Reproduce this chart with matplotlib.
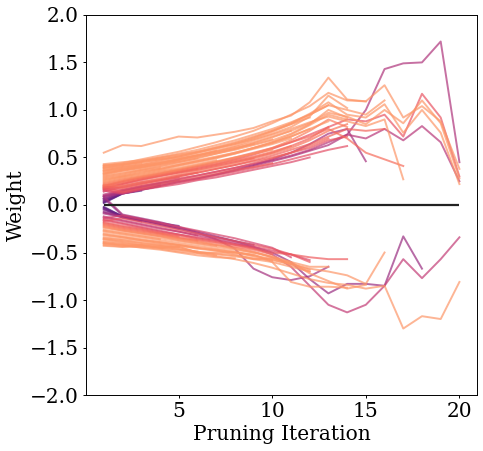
import numpy as np
import matplotlib
matplotlib.use("Agg")
import matplotlib.pyplot as plt

# ---- data: weight trajectories over pruning iterations (each starts at iteration 1) ----
pos_long = [
    [0.10,0.14,0.17,0.21,0.25,0.28,0.32,0.36,0.41,0.46,0.51,0.57,0.63,0.74,1.00,1.43,1.49,1.50,1.72,0.45],
    [0.17,0.22,0.27,0.31,0.35,0.39,0.43,0.48,0.53,0.59,0.66,0.74,0.82,0.90,0.88,0.95,0.72,1.17,0.92,0.30],
    [0.30,0.33,0.37,0.41,0.45,0.49,0.54,0.59,0.65,0.71,0.78,0.86,0.97,0.93,0.85,1.00,0.86,1.10,0.86,0.28],
    [0.11,0.16,0.20,0.23,0.27,0.31,0.35,0.39,0.43,0.47,0.52,0.58,0.66,0.74,0.70,0.80,0.68,0.83,0.66,0.25],
    [0.36,0.40,0.43,0.47,0.51,0.55,0.60,0.65,0.71,0.78,0.86,0.96,1.08,0.95,0.92,1.06,0.76,1.00,0.76,0.22],
    [0.41,0.44,0.48,0.52,0.56,0.61,0.66,0.72,0.78,0.86,0.95,1.04,1.18,1.10,1.09,1.26,0.92,1.04,0.88,0.38],
    [0.33,0.37,0.40,0.44,0.48,0.52,0.57,0.62,0.68,0.74,0.80,0.87,0.93,0.88,0.83,0.90,0.27],
    [0.20,0.25,0.29,0.33,0.37,0.41,0.45,0.50,0.55,0.60,0.66,0.72,0.80,0.70,0.55,0.48,0.41],
    [0.09,0.12,0.16,0.20,0.24,0.28,0.32,0.37,0.42,0.48,0.55,0.64,0.75,0.80,0.46],
    [0.55,0.63,0.62,0.67,0.72,0.71,0.74,0.77,0.81,0.88,0.94,1.08,1.34,1.11,1.09],
    [0.39,0.42,0.46,0.50,0.54,0.58,0.63,0.68,0.74,0.80,0.87,0.95,1.05,1.00,0.95,1.10],
    [0.19,0.18,0.22,0.26,0.30,0.34,0.38,0.42,0.47,0.52,0.58,0.64,0.72,0.80,0.78,0.80],
]
pos_mid = [
    [0.15,0.12,0.16,0.19,0.22,0.26,0.29,0.33,0.37,0.41,0.45,0.50],
    [0.16,0.13,0.17,0.20,0.24,0.27,0.31,0.35,0.39,0.43,0.48,0.53,0.58,0.62],
    [0.18,0.14,0.18,0.22,0.26,0.29,0.33,0.37,0.40,0.44],
    [0.19,0.18,0.22,0.26,0.30,0.34,0.38,0.42,0.46,0.50,0.55,0.62,0.70],
    [0.21,0.20,0.24,0.28,0.32,0.36,0.40,0.44,0.49,0.54,0.60,0.68,0.78,0.85],
    [0.19,0.23,0.27,0.31,0.34,0.38,0.42,0.46,0.50,0.55,0.62,0.70,0.82],
    [0.22,0.26,0.30,0.33,0.37,0.41,0.45,0.49,0.54,0.60,0.68,0.78,0.90,0.82],
    [0.24,0.28,0.31,0.35,0.38,0.42,0.46,0.50,0.54,0.58],
    [0.26,0.30,0.33,0.37,0.41,0.45,0.49,0.54,0.60,0.66,0.74,0.84,0.95,0.90],
    [0.28,0.31,0.35,0.38,0.42,0.46,0.50,0.54,0.59,0.64,0.70],
    [0.31,0.34,0.37,0.40,0.43,0.47,0.51,0.55,0.60,0.66,0.72,0.80],
    [0.34,0.37,0.40,0.43,0.46,0.50,0.54,0.58,0.63,0.68,0.75,0.85,1.00,0.92],
    [0.37,0.39,0.42,0.45,0.48,0.52,0.56,0.60,0.64,0.69],
    [0.40,0.42,0.45,0.48,0.51,0.55,0.59,0.64,0.69,0.75,0.82,0.93,1.15,1.02],
    [0.43,0.45,0.47,0.50,0.53,0.56,0.60,0.64,0.70,0.77,0.85,0.95,1.05],
    [0.42,0.43,0.46,0.49,0.52,0.56,0.61,0.66,0.72,0.78,0.85,0.92],
    [0.32,0.36,0.39,0.43,0.47,0.51,0.55,0.59,0.64],
    [0.21,0.25,0.29,0.32,0.36,0.40,0.43,0.47,0.51,0.56,0.62],
    [0.17,0.16,0.20,0.24,0.28,0.31,0.35,0.39,0.44,0.49,0.55,0.60,0.68,0.72],
    [0.27,0.30,0.34,0.38,0.42,0.46,0.50,0.55,0.60,0.65,0.72,0.80,0.88],
    [0.18,0.22,0.26,0.30,0.34,0.37,0.41,0.45,0.49],
    [0.35,0.38,0.41,0.44,0.48,0.52,0.56,0.61,0.66,0.72,0.78],
]
pos_short = [
    [0.02,0.12,0.16,0.20],
    [0.04,0.13,0.17],
    [0.06,0.14,0.19,0.23,0.26],
    [0.03,0.12,0.15],
    [0.05,0.13],
    [0.07,0.15,0.18,0.22],
    [0.09,0.15,0.19],
    [0.16,0.20,0.24,0.27,0.31,0.34],
    [0.23,0.27,0.30,0.34,0.37],
    [0.25,0.29,0.32,0.36,0.39,0.43,0.47],
    [0.29,0.32,0.36,0.39],
    [0.33,0.36,0.39,0.42,0.45,0.49],
    [0.36,0.38,0.41,0.44,0.47],
    [0.39,0.41,0.44],
    [0.41,0.43,0.45,0.48,0.50,0.53,0.57],
    [0.14,0.19,0.23,0.26,0.29],
    [0.20,0.24,0.28,0.31,0.35,0.38],
    [0.38,0.40,0.42,0.46,0.49,0.52],
]
neg_long = [
    [-0.12,-0.16,-0.20,-0.24,-0.28,-0.32,-0.36,-0.40,-0.45,-0.52,-0.65,-0.85,-1.05,-1.13,-1.05,-0.85,-0.57,-0.77,-0.57,-0.34],
    [-0.40,-0.43,-0.44,-0.46,-0.49,-0.51,-0.54,-0.57,-0.61,-0.66,-0.72,-0.78,-0.82,-0.84,-0.88,-0.85,-1.30,-1.17,-1.20,-0.81],
    [-0.08,-0.12,-0.16,-0.20,-0.24,-0.28,-0.33,-0.38,-0.44,-0.50,-0.60,-0.78,-0.93,-0.83,-0.83,-0.85,-0.33,-0.67],
    [-0.36,-0.39,-0.42,-0.45,-0.44,-0.50,-0.51,-0.53,-0.56,-0.58,-0.62,-0.67,-0.70,-0.74,-0.83,-0.50],
]
neg_mid = [
    [0.09,-0.10,-0.14,-0.18,-0.23,-0.29,-0.36,-0.46,-0.67,-0.76,-0.79,-0.75,-0.65],
    [0.07,-0.11,-0.15,-0.20,-0.25,-0.30,-0.34,-0.38,-0.42],
    [-0.18,-0.22,-0.25,-0.29,-0.32,-0.36,-0.39,-0.42,-0.46,-0.50,-0.52,-0.55,-0.57,-0.57],
    [-0.42,-0.44,-0.44,-0.44,-0.44,-0.50,-0.50,-0.50,-0.52,-0.60,-0.81,-0.86,-0.86,-0.87],
    [-0.30,-0.33,-0.36,-0.39,-0.42,-0.45,-0.48,-0.52,-0.57,-0.56,-0.60,-0.65,-0.65],
    [-0.26,-0.29,-0.32,-0.35,-0.38,-0.41,-0.44,-0.47,-0.50,-0.54,-0.60,-0.72,-0.80,-0.88,-0.84],
    [-0.22,-0.26,-0.29,-0.32,-0.35,-0.38,-0.42,-0.45,-0.49,-0.55,-0.62],
    [-0.15,-0.19,-0.23,-0.27,-0.31,-0.34,-0.37,-0.41,-0.44,-0.48,-0.52,-0.58],
    [-0.34,-0.36,-0.38,-0.41,-0.43,-0.46,-0.48,-0.50,-0.53],
    [-0.38,-0.40,-0.42,-0.45,-0.47,-0.49,-0.52,-0.54,-0.57,-0.60,-0.65,-0.70],
    [-0.14,-0.11,-0.15,-0.19,-0.23,-0.27,-0.31,-0.35,-0.40,-0.45,-0.55],
    [-0.20,-0.24,-0.27,-0.30,-0.34,-0.37,-0.40,-0.44,-0.47,-0.52],
    [-0.28,-0.31,-0.34,-0.37,-0.40,-0.43,-0.46,-0.49,-0.53,-0.57,-0.63,-0.70],
    [-0.32,-0.34,-0.37,-0.40,-0.42,-0.45,-0.47,-0.50,-0.54,-0.58],
    [-0.24,-0.27,-0.30,-0.33,-0.36,-0.39,-0.42,-0.46,-0.50,-0.55,-0.62,-0.68],
    [-0.40,-0.42,-0.45,-0.47,-0.50,-0.53,-0.55,-0.56],
    [-0.17,-0.14,-0.18,-0.22,-0.26,-0.30,-0.34,-0.38,-0.42,-0.46,-0.52,-0.60],
    [-0.16,-0.20,-0.24,-0.28,-0.31,-0.35,-0.38,-0.42,-0.45],
]
neg_short = [
    [-0.02,-0.12,-0.16,-0.19],
    [-0.03,-0.12,-0.17],
    [-0.04,-0.13,-0.16],
    [-0.05,-0.12,-0.15,-0.19,-0.22],
    [-0.07,-0.13,-0.17],
    [-0.09,-0.13,-0.17,-0.21,-0.25],
    [-0.13,-0.17,-0.21,-0.25,-0.28,-0.32],
    [-0.19,-0.23,-0.26,-0.30,-0.33],
    [-0.23,-0.27,-0.30,-0.33,-0.37,-0.40,-0.43],
    [-0.27,-0.30,-0.33,-0.36],
    [-0.31,-0.34,-0.37,-0.39,-0.42,-0.45],
    [-0.35,-0.37,-0.40,-0.42,-0.44],
    [-0.39,-0.41,-0.43],
    [-0.41,-0.42,-0.43,-0.45,-0.47,-0.50,-0.53],
    [-0.43,-0.44,-0.42,-0.43,-0.45],
    [-0.21,-0.25,-0.28,-0.31,-0.35,-0.38],
    [-0.36,-0.38,-0.40,-0.43,-0.46,-0.49],
]
n_iterations = 20
x_label = "Pruning Iteration"
y_label = "Weight"

# ---- plotting ----
plt.rcParams['font.family'] = ['DejaVu Serif']
plt.rcParams['font.size'] = 14.5
plt.rcParams['axes.linewidth'] = 0.7
plt.rcParams['xtick.major.size'] = 2.5
plt.rcParams['ytick.major.size'] = 2.5
plt.rcParams['xtick.major.width'] = 0.7
plt.rcParams['ytick.major.width'] = 0.7
plt.rcParams['xtick.major.pad'] = 2.8
plt.rcParams['ytick.major.pad'] = 2.8

fig = plt.figure(figsize=(4.83, 4.51), dpi=100)
ax = fig.add_axes([0.178, 0.124, 0.810, 0.843])
cmap = plt.get_cmap('magma')

all_series = pos_short + neg_short + pos_mid + neg_mid + pos_long + neg_long
# dark (small initial magnitude) first, light on top
all_series = sorted(all_series, key=lambda s: abs(s[0]))
for s in all_series:
    v = np.array(s)
    x = np.arange(1, len(v) + 1)
    c = 0.08 + 0.70 * np.clip(abs(v[0]) / 0.25, 0, 1) ** 0.6
    ax.plot(x, v, color=cmap(c), alpha=0.7, lw=1.4)

iters = np.arange(1, n_iterations + 1)
ax.hlines(0, iters[0], iters[-1], color='#222222', lw=1.6, zorder=5)

ax.set_ylim(-2, 2)
ax.set_yticks(np.arange(-2, 2.01, 0.5))
ax.set_xlabel(x_label, labelpad=2.5)
ax.set_ylabel(y_label, labelpad=2.5)

fig.savefig("out.png", dpi=100)
